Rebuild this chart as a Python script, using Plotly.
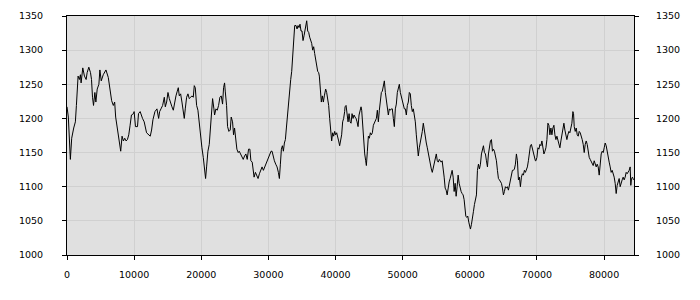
import plotly.graph_objects as go

x_vals = [
    0, 200, 500, 700, 1000, 1250, 1400, 1500, 1650, 1850, 2000, 2100, 2350, 2600, 2850, 3000, 3250, 3500, 3650,
    3800, 3950, 4150, 4300, 4500, 4750, 4900, 5100, 5400, 5800, 6150, 6400, 6650, 6900, 7100, 7250, 7500, 7700,
    8000, 8200, 8400, 8600, 8800, 9000, 9200, 9400, 9600, 9900, 10000, 10200, 10500, 10650, 10900, 11250, 11500,
    11850, 12150, 12400, 12600, 12800, 13100, 13400, 13650, 13800,
    13998, 14246, 14494, 14643, 14842, 15040, 15238, 15437, 15635, 15834, 16032, 16230, 16429, 16578, 16726,
    16925, 17123, 17322, 17470, 17619, 17818, 18016, 18214, 18413, 18611, 18810, 18958, 19107, 19306, 19504,
    19702, 19901, 20099, 20298, 20496, 20645, 20794, 20992, 21190, 21339, 21488, 21686, 21885, 21984, 22182,
    22381, 22579, 22778, 22976, 23174, 23323, 23472, 23571, 23770, 23918, 24117, 24315, 24464, 24662, 24811,
    24960, 25158, 25307, 25506, 25654, 25853, 26051, 26250, 26448, 26646, 26845, 27043, 27242, 27390, 27589,
    27718, 27867, 28066, 28264, 28462, 28661, 28859, 29058, 29256, 29454, 29653, 29851, 30050, 30248, 30397,
    30546, 30694, 30893, 31091, 31290, 31488, 31637, 31786, 31934, 32083, 32232, 32381, 32530, 32678, 32827,
    32976, 33125, 33323, 33472, 33621, 33770, 33918, 34117, 34266, 34414, 34563, 34712, 34861, 35010, 35158,
    35307, 35456, 35605, 35704, 35853, 36002, 36150, 36299, 36448, 36597, 36746, 36894, 37043, 37192, 37341,
    37490, 37589, 37738, 37886, 38035, 38184, 38333, 38531, 38680, 38829, 38978, 39126, 39275, 39424, 39573,
    39722, 39870, 40019, 40168, 40317, 40466, 40614, 40763, 40912, 41061, 41210, 41358,
    41419, 41568, 41717, 41866, 42014, 42163, 42312, 42461, 42610, 42758, 42907, 43056, 43205, 43354, 43502,
    43651, 43800, 43899, 44048, 44197, 44346, 44494, 44594, 44742, 44891, 45040, 45189, 45338, 45486, 45635,
    45784, 45933, 46082, 46230, 46379, 46528, 46677, 46826, 46974, 47123, 47272, 47421, 47570, 47718, 47867,
    48016, 48165, 48314, 48462, 48611, 48760, 48909, 49058, 49206, 49355, 49504, 49653, 49802, 49950, 50099,
    50248, 50397, 50546, 50694, 50843, 50992, 51141, 51290, 51438, 51587, 51736, 51885, 52034, 52182, 52331,
    52480, 52629, 52778, 52926, 53075, 53224, 53373, 53522, 53670, 53819, 53968, 54117, 54266, 54414, 54563,
    54712, 54861, 55010, 55158, 55307, 55456,
    55586, 55734, 55883, 56032, 56181, 56330, 56478, 56627, 56776, 56925, 57074, 57222, 57371, 57520, 57669,
    57818, 57966, 58115, 58264, 58413, 58562, 58710, 58859, 59008, 59157, 59256, 59405, 59554, 59702, 59851,
    60000, 60099, 60248, 60397, 60546, 60694, 60843, 60992, 61141, 61290, 61438, 61587, 61736, 61885, 62034,
    62182, 62331, 62480, 62629, 62778, 62926, 63075, 63224, 63373, 63522, 63670, 63819, 63968, 64117, 64266,
    64414, 64563, 64712, 64861, 65010, 65158, 65307, 65456, 65605, 65754, 65902, 66051, 66200, 66349, 66498,
    66646, 66795, 66944, 67093, 67242, 67390, 67539, 67688, 67837, 67986, 68134, 68283, 68432, 68581, 68730,
    68878, 69027, 69176, 69325, 69474, 69622, 69771,
    69851, 70000, 70149, 70298, 70446, 70595, 70744, 70893, 71042, 71190, 71339, 71488, 71637, 71786, 71934,
    72083, 72232, 72381, 72530, 72678, 72827, 72976, 73125, 73274, 73422, 73571, 73720, 73869, 74018, 74166,
    74315, 74464, 74613, 74762, 74910, 75059, 75208, 75357, 75456, 75555, 75704, 75853, 76002, 76150, 76299,
    76448, 76597, 76746, 76894, 77043, 77192, 77341, 77490, 77638, 77787, 77936, 78085, 78234, 78382, 78531,
    78680, 78829, 78978, 79126, 79275, 79424, 79573, 79722, 79870, 80019, 80168, 80317, 80466, 80614, 80763,
    80912, 81061, 81210, 81358, 81507, 81656, 81805, 81954, 82102, 82251, 82400, 82549, 82698, 82846, 82995,
    83144, 83293, 83442, 83590, 83739, 83888, 83987, 84086, 84235, 84384,
]

y_vals = [
    1217, 1202, 1140, 1171, 1186, 1195, 1219, 1233, 1262, 1257, 1264, 1252, 1274, 1262, 1257, 1267, 1275, 1267, 1257,
    1231, 1219, 1238, 1224, 1243, 1250, 1271, 1255, 1264, 1271, 1260, 1243, 1226, 1219, 1224, 1202, 1186, 1167,
    1152, 1174, 1167, 1171, 1167, 1169, 1176, 1190, 1205, 1207, 1210, 1188, 1188, 1207, 1210, 1200, 1195,
    1179, 1176, 1174, 1183, 1198, 1210, 1214, 1200, 1210,
    1214, 1219, 1231, 1217, 1224, 1238, 1229, 1221, 1217, 1212, 1224, 1233, 1240, 1245, 1233,
    1236, 1224, 1210, 1200, 1214, 1231, 1236, 1229, 1231, 1233, 1231, 1248, 1245, 1219, 1212,
    1190, 1167, 1157, 1143, 1129, 1112, 1129, 1152, 1162, 1186, 1210, 1229, 1214, 1205, 1214,
    1212, 1219, 1231, 1233, 1221, 1245, 1252, 1240, 1219, 1188, 1181, 1183, 1202, 1195, 1176,
    1186, 1169, 1155, 1150, 1152, 1148, 1145, 1140, 1145, 1148, 1140, 1155, 1155, 1138, 1136,
    1124, 1114, 1121, 1117, 1112, 1119, 1124, 1129, 1124, 1129, 1133, 1140, 1143, 1148, 1152,
    1152, 1145, 1138, 1133, 1129, 1121, 1112, 1133, 1155, 1160, 1152, 1164, 1169, 1186, 1205,
    1224, 1243, 1257, 1269, 1290, 1312, 1336, 1336, 1331, 1336, 1333, 1338, 1328, 1328, 1314,
    1321, 1328, 1336, 1343, 1328, 1326, 1319, 1314, 1310, 1300, 1305, 1295, 1286, 1279, 1269,
    1267, 1262, 1243, 1224, 1233, 1224, 1233, 1243, 1238, 1231, 1219, 1200, 1181, 1167, 1179,
    1174, 1181, 1176, 1179, 1174, 1167, 1160, 1167, 1176, 1195, 1200, 1210,
    1217, 1219, 1205, 1195, 1207, 1195, 1193, 1207, 1200, 1205, 1202, 1200, 1195, 1188, 1205,
    1214, 1217, 1212, 1186, 1169, 1148, 1138, 1131, 1152, 1174, 1171, 1179, 1176, 1179, 1190,
    1193, 1195, 1200, 1212, 1195, 1212, 1231, 1238, 1240, 1248, 1255, 1238, 1224, 1214, 1205,
    1214, 1212, 1214, 1214, 1200, 1188, 1214, 1221, 1238, 1243, 1250, 1238, 1231, 1226, 1219,
    1214, 1214, 1205, 1219, 1224, 1238, 1236, 1219, 1210, 1214, 1205, 1195, 1176, 1162, 1145,
    1157, 1164, 1169, 1181, 1193, 1181, 1169, 1164, 1157, 1148, 1138, 1129, 1126, 1121, 1129,
    1133, 1140, 1148, 1138, 1136, 1140,
    1138, 1136, 1138, 1129, 1114, 1098, 1095, 1088, 1100, 1107, 1112, 1119, 1124, 1114, 1093,
    1105, 1086, 1100, 1117, 1105, 1098, 1093, 1090, 1088, 1081, 1067, 1057, 1055, 1057, 1048,
    1038, 1038, 1045, 1052, 1064, 1074, 1081, 1088, 1124, 1133, 1126, 1133, 1148, 1157, 1160,
    1150, 1148, 1138, 1129, 1148, 1162, 1167, 1169, 1152, 1155, 1152, 1145, 1138, 1124, 1112,
    1110, 1107, 1105, 1098, 1088, 1093, 1100, 1098, 1100, 1095, 1102, 1107, 1119, 1124, 1124,
    1126, 1133, 1148, 1138, 1110, 1114, 1100, 1114, 1119, 1117, 1124, 1121, 1126, 1129, 1138,
    1150, 1160, 1162, 1155, 1152, 1140, 1138,
    1138, 1143, 1157, 1155, 1162, 1160, 1167, 1157, 1148, 1152, 1157, 1169, 1193, 1190, 1176,
    1186, 1176, 1186, 1190, 1176, 1169, 1174, 1167, 1162, 1157, 1167, 1176, 1186, 1193, 1183,
    1176, 1169, 1176, 1181, 1179, 1186, 1193, 1210, 1207, 1188, 1181, 1186, 1176, 1174, 1181,
    1179, 1171, 1169, 1162, 1150, 1162, 1167, 1162, 1148, 1143, 1140, 1136, 1133, 1131, 1138,
    1133, 1129, 1133, 1129, 1117, 1133, 1148, 1152, 1150, 1157, 1164, 1160, 1150, 1143, 1136,
    1129, 1121, 1124, 1119, 1114, 1105, 1090, 1102, 1110, 1112, 1100, 1107, 1110, 1114, 1110,
    1114, 1121, 1119, 1121, 1124, 1129, 1102, 1112, 1114, 1110,
]

y_ticks = [1000, 1050, 1100, 1150, 1200, 1250, 1300, 1350]
x_ticks = [0, 10000, 20000, 30000, 40000, 50000, 60000, 70000, 80000]

font = dict(family="DejaVu Sans", size=9.5, color="#000000")

fig = go.Figure()
fig.add_trace(go.Scatter(x=x_vals, y=y_vals, mode="lines",
                         line=dict(color="#000000", width=1), showlegend=False))
fig.add_trace(go.Scatter(x=x_vals, y=y_vals, mode="lines", yaxis="y2",
                         line=dict(color="rgba(0,0,0,0)", width=0), showlegend=False,
                         hoverinfo="skip"))

fig.update_layout(
    width=700, height=300,
    margin=dict(l=67, r=66, t=10, b=45),
    paper_bgcolor="#ffffff",
    plot_bgcolor="#e0e0e0",
    font=font,
    xaxis=dict(range=[0, 84460], tickvals=x_ticks, ticktext=[str(v) for v in x_ticks],
               showgrid=True, gridcolor="#d0d0d0", gridwidth=1, zeroline=False,
               showline=True, linecolor="#000000", linewidth=1, mirror=True,
               ticks="outside", ticklen=4, tickcolor="#000000", ticklabelstandoff=7,
               tickfont=font),
    yaxis=dict(range=[1000, 1350], tickvals=y_ticks, ticktext=[str(v) for v in y_ticks],
               showgrid=True, gridcolor="#d0d0d0", gridwidth=1, zeroline=False,
               showline=True, linecolor="#000000", linewidth=1,
               ticks="outside", ticklen=4, tickcolor="#000000", ticklabelstandoff=17,
               tickfont=font),
    yaxis2=dict(range=[1000, 1350], tickvals=y_ticks, ticktext=[str(v) for v in y_ticks],
                overlaying="y", side="right", showgrid=False, zeroline=False,
                showline=True, linecolor="#000000", linewidth=1,
                ticks="outside", ticklen=4, tickcolor="#000000", ticklabelstandoff=15,
                tickfont=font),
)

fig.write_html("out.html")
